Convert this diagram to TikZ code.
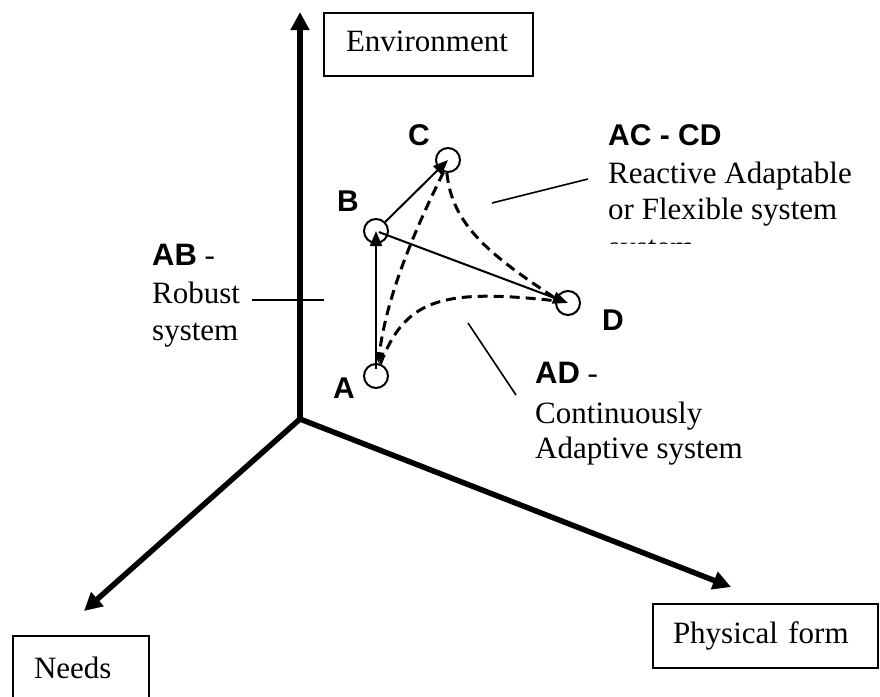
\documentclass[tikz,border=0pt]{standalone}
\usepackage{fontspec}
\setmainfont{Liberation Serif}
\newfontfamily\lsans{Liberation Sans}
\usetikzlibrary{arrows.meta}
\begin{document}
\begin{tikzpicture}[x=1pt,y=-1pt,
  axis/.style={line width=5.5pt,-{Triangle[length=18pt,width=18pt]}},
  box/.style={draw,line width=2pt,rectangle,align=left,font=\fontsize{31}{37}\selectfont,text height=21pt,text depth=7pt,anchor=north west},
  serif/.style={font=\fontsize{31}{37}\selectfont,inner sep=0pt,anchor=base west},
  boldlbl/.style={font=\fontsize{30}{36}\selectfont\lsans\bfseries,inner sep=0pt,anchor=base west},
  pnt/.style={circle,draw,line width=2pt,minimum size=24pt,inner sep=0pt},
  thinarrow/.style={line width=2pt,-{Triangle[length=15pt,width=12pt]}},
  dashline/.style={line width=3pt,dash pattern=on 10pt off 6pt},
  callout/.style={line width=1.6pt}
]
\useasboundingbox (0,0) rectangle (880,696);

% axes
\coordinate (O) at (300,419);
\coordinate (envtip) at (300,12);
\coordinate (needtip) at (84,611);
\coordinate (phystip) at (731,587);
\draw[axis] (O) -- (envtip);
\draw[axis] (O) -- (needtip);
\draw[axis] (O) -- (phystip);

% boxes
\node[box,inner xsep=22pt,text width=165pt,minimum height=63pt] (env) at (323,12) {Environment};
\node[box,inner xsep=21pt,text width=94pt,minimum height=70pt] (needs) at (12,635) {Needs};
\node[box,inner xsep=20pt,text width=185pt,minimum height=64pt] (phys) at (652,603) {Physical form};

% points
\node[pnt] (A) at (376,376) {};
\node[pnt] (B) at (376,231) {};
\node[pnt] (C) at (448,160) {};
\node[pnt] (D) at (568,303) {};

\node[boldlbl] (lA) at (333,398) {A};
\node[boldlbl] (lB) at (337,211) {B};
\node[boldlbl] (lC) at (408,145) {C};
\node[boldlbl] (lD) at (602,330) {D};

% solid arrows
\draw[thinarrow,shorten <=7pt] (A.center) -- (B.center);
\draw[thinarrow] (B) -- (C.center);
\draw[thinarrow,shorten <=3pt] (B.center) -- (D.center);

% dashed curves
\draw[dashline,-{Triangle[length=11pt,width=9pt]}] (C.250) .. controls (412,235) and (386,300) .. (A.80);
\draw[dashline] (C.265) .. controls (452,225) and (490,255) .. (D.160);
\draw[dashline] (A.70) .. controls (405,300) and (440,288) .. (D.170);

% AB text
\node[serif] (ab1) at (152,265) {{\lsans\bfseries AB} -};
\node[serif] (ab2) at (152,303) {Robust};
\node[serif] (ab3) at (152,340) {system};
\coordinate (abL) at (252,300);
\coordinate (abR) at (324,300);
\draw[callout] (abL) -- (abR);

% AC - CD text
\node[boldlbl] (cd1) at (608,145) {AC - CD};
\node[serif] (cd2) at (608,183) {Reactive Adaptable};
\node[serif] (cd3) at (608,219) {or Flexible system};
\begin{scope}
\clip (600,230) rectangle (760,243.5);
\node[serif] (cd4) at (608,257) {system};
\end{scope}
\coordinate (cdL) at (492,203);
\coordinate (cdR) at (588,179);
\draw[callout] (cdL) -- (cdR);

% AD text
\node[serif] (ad1) at (535,383) {{\lsans\bfseries AD} -};
\node[serif] (ad2) at (535,423) {Continuously};
\node[serif] (ad3) at (535,458) {Adaptive system};
\coordinate (adT) at (468,323);
\coordinate (adB) at (516,395);
\draw[callout] (adT) -- (adB);
\end{tikzpicture}
\end{document}
